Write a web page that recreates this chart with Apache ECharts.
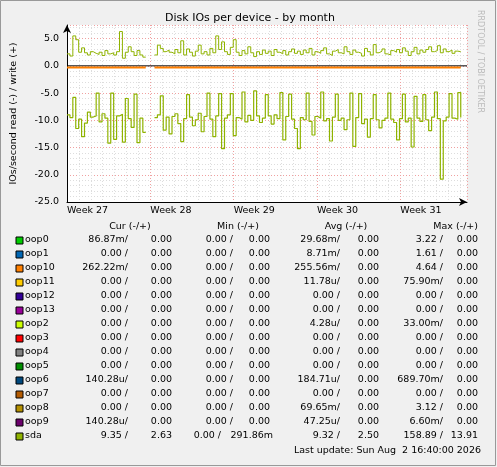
<!DOCTYPE html>
<html><head><meta charset="utf-8">
<script src="https://cdn.jsdelivr.net/npm/echarts@6/dist/echarts.min.js"></script>
<style>html,body{margin:0;padding:0;background:#f0f0f0}#c{width:497px;height:467px}</style>
</head><body><div id="c"></div>
<script>
// sda samples, one every 0.035 week starting at week 27
const weekStart = 27, weekStep = 0.035;
const sdaWrite = [2.2,1.8,5.5,4.8,2.5,3.3,2.4,2.0,2.6,2.3,
  2.1,2.5,1.9,2.8,2.2,2.4,2.0,2.6,6.3,1.4,
  2.5,3.5,2.6,1.9,2.8,2.0,1.6,null,null,null,
  2.0,3.8,3.2,2.6,2.9,2.5,2.2,3.0,2.4,4.6,
  2.0,3.1,2.5,1.8,2.7,3.8,2.2,2.6,2.0,3.2,
  2.4,5.5,3.0,4.4,2.6,2.1,3.4,4.8,2.5,1.9,
  2.8,2.2,3.5,2.4,1.7,2.6,2.1,2.9,2.3,2.7,
  1.9,3.0,2.5,2.2,2.8,2.0,2.6,3.1,2.3,2.7,
  2.1,2.9,2.4,3.2,2.0,2.6,2.3,2.8,3.3,2.2,
  1.9,2.7,3.0,2.4,2.2,3.5,2.6,2.1,2.9,2.5,
  2.3,1.8,3.2,2.6,2.0,3.9,2.4,2.7,3.1,2.2,
  2.0,2.8,2.5,3.0,2.4,3.3,2.7,1.9,2.6,3.4,
  2.2,2.9,2.5,3.0,3.5,2.6,2.8,3.7,2.4,3.1,
  2.6,2.9,2.3,2.7,2.6,2.5];
const sdaRead = [-9.0,-9.5,-5.8,-11.5,-9.8,-13.0,-10.5,-8.5,-9.4,-9.2,
  -5.0,-10.3,-8.8,-9.6,-14.2,-5.0,-13.5,-9.2,-8.9,-14.0,
  -6.0,-9.7,-11.3,-5.2,-14.1,-9.6,-12.2,null,null,null,
  -9.5,-9.0,-5.5,-11.8,-9.4,-12.5,-9.3,-8.8,-10.6,-13.9,
  -9.7,-5.3,-9.4,-11.0,-9.9,-8.7,-12.1,-9.3,-5.0,-9.8,
  -13.0,-9.2,-5.1,-15.2,-9.6,-9.0,-5.1,-12.8,-9.5,-9.8,
  -4.8,-10.3,-9.1,-10.0,-4.6,-9.2,-10.4,-9.6,-5.3,-9.2,
  -10.7,-9.0,-9.7,-4.9,-13.6,-9.3,-5.2,-9.8,-11.5,-15.2,
  -9.5,-9.9,-5.0,-10.2,-12.7,-9.3,-9.6,-4.8,-10.1,-9.7,
  -13.8,-9.4,-5.2,-10.0,-9.6,-11.7,-9.9,-5.0,-14.8,-9.5,
  -5.1,-10.6,-9.8,-13.1,-9.7,-5.3,-9.9,-11.4,-10.0,-9.6,
  -5.0,-9.8,-10.4,-13.6,-9.7,-5.2,-10.3,-9.6,-14.9,-5.6,
  -9.6,-10.2,-5.3,-9.9,-11.9,-9.4,-4.8,-9.7,-20.8,-10.1,
  -9.4,-5.1,-9.6,-9.8,-4.9,-9.5];
const loop10Read = -0.3;

const names = ['oop0','oop1','oop10','oop11','oop12','oop13','oop2','oop3','oop4','oop5','oop6','oop7','oop8','oop9','sda'];
const colors = ['#00cc00','#0066b3','#ff8000','#ffcc00','#330099','#990099','#ccff00','#ff0000','#808080','#008f00','#00487d','#b35a00','#b38f00','#6b006b','#8fb300'];
const curVals = [['86.87m/','0.00'],['0.00 /','0.00'],['262.22m/','0.00'],['0.00 /','0.00'],['0.00 /','0.00'],['0.00 /','0.00'],['0.00 /','0.00'],['0.00 /','0.00'],['0.00 /','0.00'],['0.00 /','0.00'],['140.28u/','0.00'],['0.00 /','0.00'],['0.00 /','0.00'],['140.28u/','0.00'],['9.35 /','2.63']];
const minVals = [['0.00 /','0.00'],['0.00 /','0.00'],['0.00 /','0.00'],['0.00 /','0.00'],['0.00 /','0.00'],['0.00 /','0.00'],['0.00 /','0.00'],['0.00 /','0.00'],['0.00 /','0.00'],['0.00 /','0.00'],['0.00 /','0.00'],['0.00 /','0.00'],['0.00 /','0.00'],['0.00 /','0.00'],['0.00 /','291.86m']];
const avgVals = [['29.68m/','0.00'],['8.71m/','0.00'],['255.56m/','0.00'],['11.78u/','0.00'],['0.00 /','0.00'],['0.00 /','0.00'],['4.28u/','0.00'],['0.00 /','0.00'],['0.00 /','0.00'],['0.00 /','0.00'],['184.71u/','0.00'],['0.00 /','0.00'],['69.65m/','0.00'],['47.25u/','0.00'],['9.32 /','2.50']];
const maxVals = [['3.22 /','0.00'],['1.61 /','0.00'],['4.64 /','0.00'],['75.90m/','0.00'],['0.00 /','0.00'],['0.00 /','0.00'],['33.00m/','0.00'],['0.00 /','0.00'],['0.00 /','0.00'],['0.00 /','0.00'],['689.70m/','0.00'],['0.00 /','0.00'],['3.12 /','0.00'],['6.60m/','0.00'],['158.89 /','13.91']];
const weekTicks = [27, 28, 29, 30, 31];

const font = '"DejaVu Sans", sans-serif';
const fs = '9.5px ';
function pts(arr) { return arr.map((v, i) => [weekStart + i * weekStep, v]); }
const lastX = weekStart + (sdaWrite.length - 1) * weekStep;

const g = [];
g.push({type:'rect', shape:{x:0.5,y:0.5,width:495,height:465}, style:{fill:null, stroke:'#999', lineWidth:1}});
g.push({type:'text', x:250, y:13, style:{text:'Disk IOs per device - by month', font:'11px '+font, fill:'#000', align:'center'}});
g.push({type:'text', x:484, y:10, rotation:-Math.PI/2, style:{text:'RRDTOOL / TOBI OETIKER', font:'8px '+font, fill:'#bbb'}});
const heads = [['Cur (-/+)',130],['Min (-/+)',238],['Avg (-/+)',346],['Max (-/+)',478]];
heads.forEach(([t, x], k) => g.push({type:'text', x:x, y:222, style:{text:t, font:fs+font, fill:'#000', align: k === 3 ? 'right' : 'center'}}));
const cols = [[curVals,128,172],[minVals,233,270],[avgVals,340,379],[maxVals,443,478]];
names.forEach((n, i) => {
  const y = 236 + i * 14;
  g.push({type:'rect', shape:{x:16,y:y+1,width:7,height:7}, style:{fill:colors[i], stroke:'#000', lineWidth:1}});
  g.push({type:'text', x:25, y:y-1, style:{text:n, font:fs+font, fill:'#000'}});
  cols.forEach(([vals, x1, x2]) => {
    const shift = vals[i][1].length > 5 ? 12 : 0;
    g.push({type:'text', x:x1 - shift, y:y-1, style:{text:vals[i][0], font:fs+font, fill:'#000', align:'right'}});
    g.push({type:'text', x:x2 + shift / 4, y:y-1, style:{text:vals[i][1], font:fs+font, fill:'#000', align:'right'}});
  });
});
g.push({type:'text', x:481, y:446, style:{text:'Last update: Sun Aug  2 16:40:00 2026', font:fs+font, fill:'#000', align:'right'}});

const chart = echarts.init(document.getElementById('c'));
chart.setOption({
  backgroundColor: '#f0f0f0',
  animation: false,
  grid: {left: 67, right: 30, top: 25, bottom: 265, backgroundColor: '#fff', show: true, borderWidth: 0},
  xAxis: {
    type: 'value', min: 27, max: 31.8, interval: 1,
    axisLine: {onZero: false, lineStyle: {color: '#000'}, symbol: ['none','arrow'], symbolSize: [6, 8]},
    axisTick: {show: false},
    axisLabel: {color: '#000', fontFamily: font, fontSize: 9.5, align: 'left', margin: 4, formatter: v => weekTicks.includes(v) ? 'Week ' + v : ''},
    splitLine: {show: true, lineStyle: {color: '#f0a0a0', type: [1, 2]}},
    minorTick: {show: false, splitNumber: 7},
    minorSplitLine: {show: true, lineStyle: {color: '#ddd', type: [1, 2]}}
  },
  yAxis: {
    type: 'value', min: -25, max: 7.5, interval: 5,
    name: 'IOs/second read (-) / write (+)', nameLocation: 'middle', nameGap: 48,
    nameTextStyle: {color: '#000', fontFamily: font, fontSize: 9.5},
    axisLine: {show: true, lineStyle: {color: '#000'}, symbol: ['none','arrow'], symbolSize: [6, 8]},
    axisTick: {show: false},
    axisLabel: {color: '#000', fontFamily: font, fontSize: 9.5, formatter: v => v > 6 ? '' : v.toFixed(1)},
    splitLine: {show: true, lineStyle: {color: '#f0a0a0', type: [1, 2]}},
    minorTick: {show: false, splitNumber: 5},
    minorSplitLine: {show: true, lineStyle: {color: '#ddd', type: [1, 2]}}
  },
  series: [
    {type: 'line', data: [[27, 0], [31.8, 0]], symbol: 'none', lineStyle: {color: '#000', width: 1}, silent: true},
    {type: 'line', step: 'end', data: [[weekStart, loop10Read], [weekStart + 26 * weekStep, loop10Read], [weekStart + 27 * weekStep, null], [weekStart + 30 * weekStep, loop10Read], [lastX, loop10Read]], symbol: 'none', lineStyle: {color: '#ff8000', width: 2}},
    {type: 'line', step: 'end', data: pts(sdaWrite), symbol: 'none', lineStyle: {color: '#8fb300', width: 1}},
    {type: 'line', step: 'end', data: pts(sdaRead), symbol: 'none', lineStyle: {color: '#8fb300', width: 1.2}}
  ],
  graphic: g
});
</script></body></html>
